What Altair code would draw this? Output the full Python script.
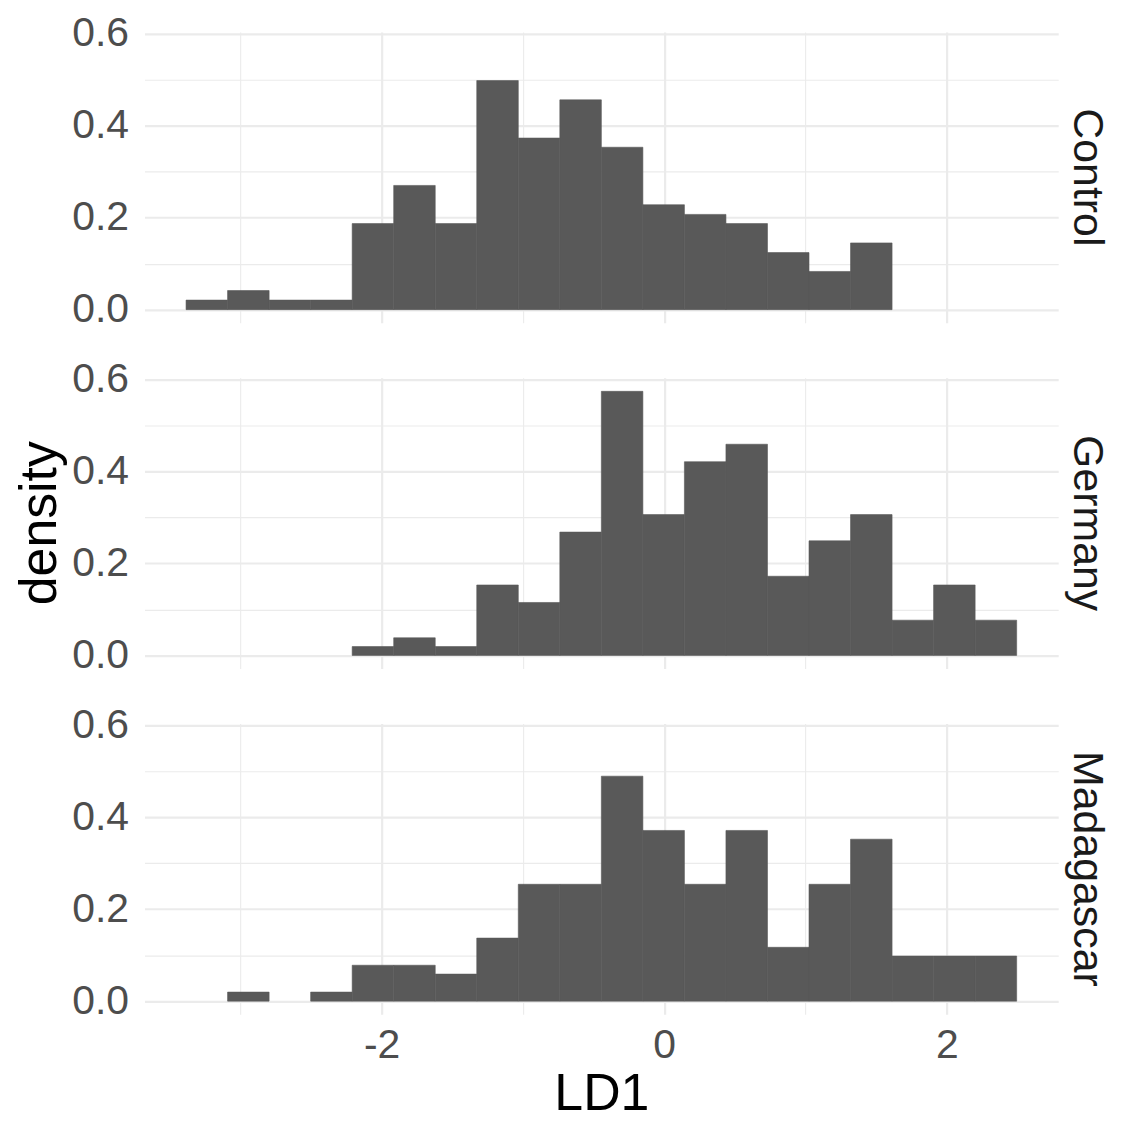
import altair as alt
import pandas as pd

groups = ["Control", "Germany", "Madagascar"]

bin_start = -3.384
bin_width = 0.2939

control = [0.0207, 0.0415, 0.0207, 0.0207, 0.187, 0.270, 0.187, 0.498, 0.373, 0.456,
           0.353, 0.228, 0.207, 0.187, 0.124, 0.083, 0.145, 0.0, 0.0, 0.0]
germany = [0.0, 0.0, 0.0, 0.0, 0.0191, 0.0382, 0.0191, 0.153, 0.115, 0.268,
           0.574, 0.306, 0.421, 0.459, 0.172, 0.249, 0.306, 0.0765, 0.153, 0.0765]
madagascar = [0.0, 0.0196, 0.0, 0.0196, 0.078, 0.078, 0.0587, 0.137, 0.254, 0.254,
              0.489, 0.371, 0.254, 0.371, 0.117, 0.254, 0.352, 0.098, 0.098, 0.098]

x_ticks = [-3, -2, -1, 0, 1, 2]
y_ticks = [0.0, 0.1, 0.2, 0.3, 0.4, 0.5, 0.6]

rows = []
for g, vals in zip(groups, [control, germany, madagascar]):
    for i, v in enumerate(vals):
        if v > 0:
            rows.append({
                "group": g,
                "x0": bin_start + i * bin_width,
                "x1": bin_start + (i + 1) * bin_width,
                "density": v,
            })
df = pd.DataFrame(rows)

FONT = "Liberation Sans"
GRID = "#EBEBEB"
BAR = "#595959"

bars = alt.Chart(df).mark_bar(color=BAR, stroke=BAR, strokeWidth=0.6).encode(
    x=alt.X(
        "x0:Q",
        scale=alt.Scale(domain=[-3.678, 2.788], nice=False, zero=False),
        axis=alt.Axis(
            title="LD1",
            values=x_ticks,
            labelExpr="round(datum.value) % 2 === 0 ? ('' + datum.value) : ''",
            gridWidth={"condition": {"test": "round(datum.value) % 2 === 0", "value": 2.2}, "value": 1.1},
            ticks=False,
            tickSize=0,
            domain=False,
            labelFontSize=41,
            labelColor="#4D4D4D",
            labelPadding=11,
            titleFontSize=52,
            titleColor="#000000",
            titleFontWeight="normal",
            titlePadding=3,
        ),
    ),
    x2="x1:Q",
    y=alt.Y(
        "density:Q",
        scale=alt.Scale(domain=[-0.0288, 0.6037], nice=False, zero=False),
        axis=alt.Axis(
            title=None,
            values=y_ticks,
            labelExpr="round(datum.value * 10) % 2 === 0 ? format(datum.value, '.1f') : ''",
            gridWidth={"condition": {"test": "round(datum.value * 10) % 2 === 0", "value": 2.2}, "value": 1.1},
            ticks=False,
            tickSize=0,
            domain=False,
            labelFontSize=41,
            labelColor="#4D4D4D",
            labelPadding=16,
        ),
    ),
    y2=alt.datum(0),
).properties(width=917, height=292)

chart = bars.facet(
    row=alt.Row(
        "group:N",
        sort=groups,
        header=alt.Header(
            title="density",
            titleOrient="left",
            titleFontSize=52,
            titleColor="#000000",
            titleFont=FONT,
            titleFontWeight="normal",
            titlePadding=-5,
            labelOrient="right",
            labelAngle=90,
            labelFontSize=43,
            labelColor="#1A1A1A",
            labelFont=FONT,
            labelPadding=7,
        ),
    ),
    spacing=55,
).configure(
    font=FONT,
    padding={"left": 5, "top": 2, "right": 6, "bottom": 0},
).configure_view(
    stroke=None,
).configure_axis(
    gridColor=GRID,
    labelFont=FONT,
    titleFont=FONT,
)

chart.save("out.html", embed_options={"renderer": "svg", "actions": False})
